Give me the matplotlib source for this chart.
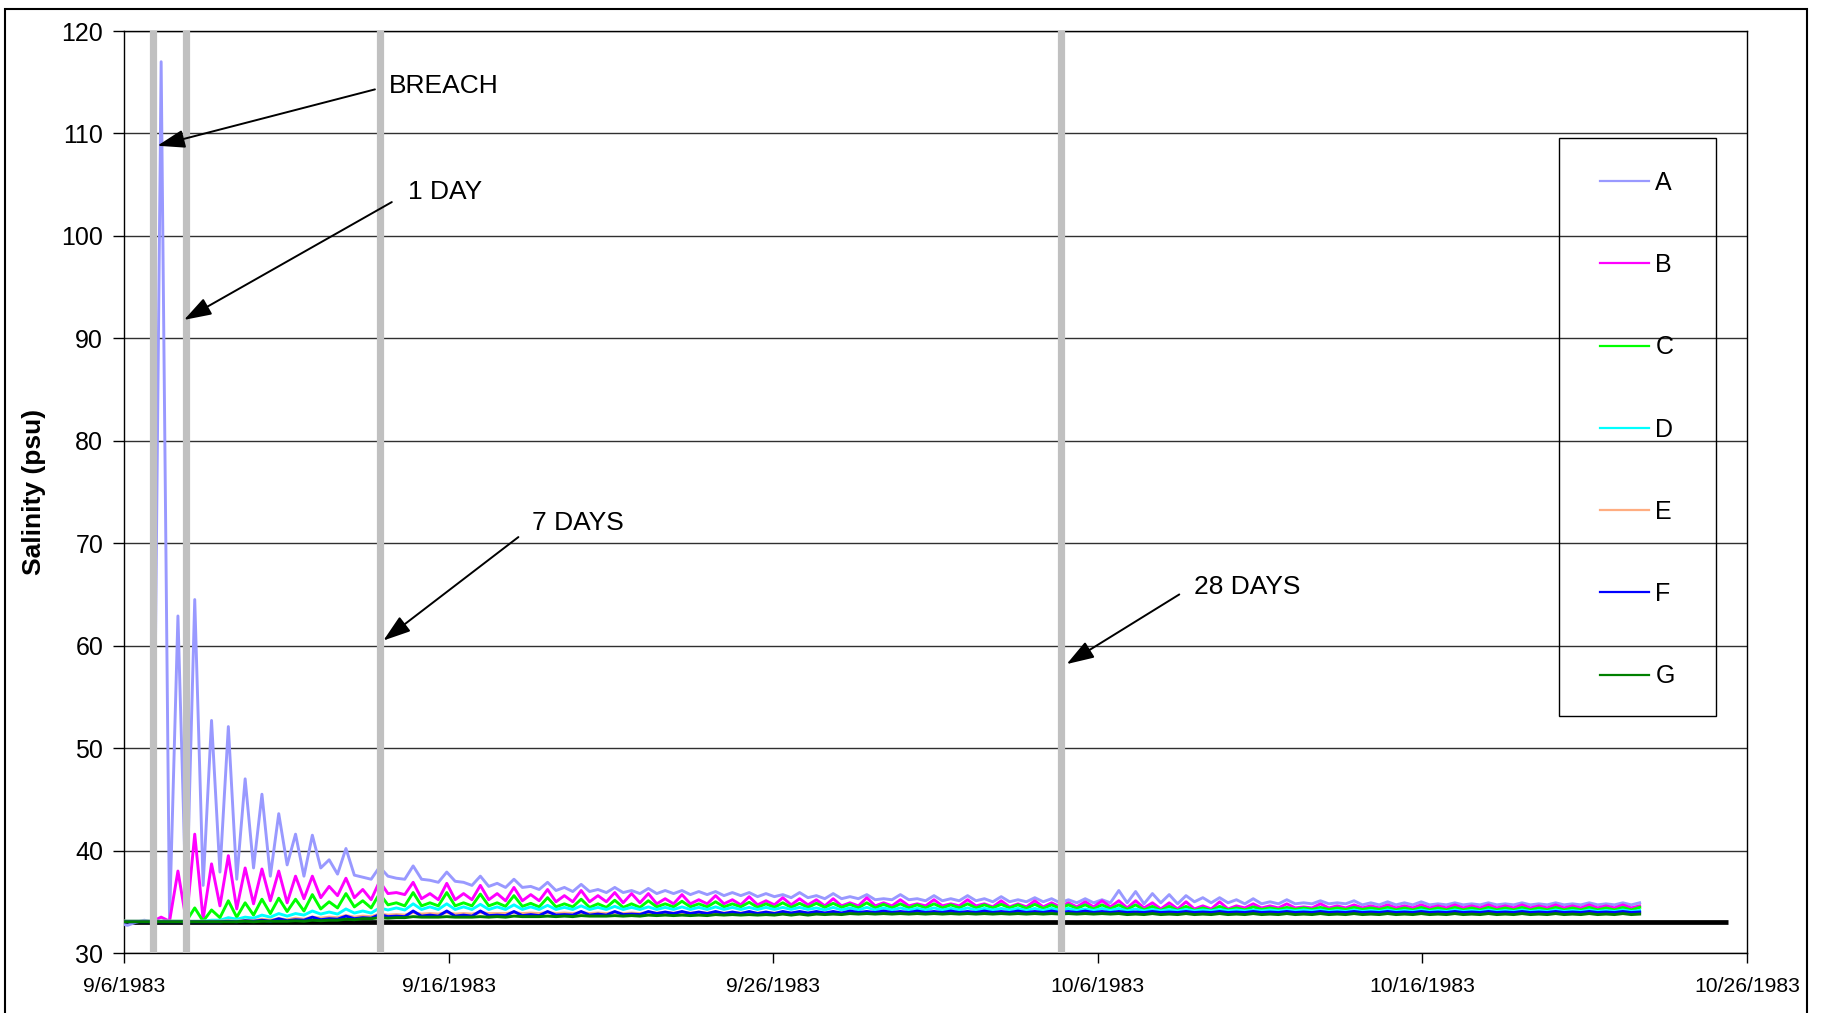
import datetime as dt

import matplotlib
matplotlib.use("Agg")
import matplotlib.pyplot as plt
import matplotlib.dates as mdates
from matplotlib.lines import Line2D
from matplotlib.patches import Rectangle
import numpy as np

plt.rcParams['font.family'] = ['Liberation Sans', 'DejaVu Sans']

# records every half tidal cycle (high / low water), days after 9/6/1983 00:00
sample_start = -0.15
half_tide = 0.2588

names = ['A', 'B', 'C', 'D', 'E', 'F', 'G']
colors = ['#9999FF', '#FF00FF', '#00FF00', '#00FFFF', '#FFAD80', '#0000FF', '#008000']

sal_a = [32.9, 32.7, 33.0, 33.2, 33.0, 117.0, 33.2,
         62.9, 34.0, 64.5, 36.6, 52.7, 37.9, 52.1, 37.2,
         47.0, 38.3, 45.5, 37.5, 43.6, 38.6, 41.6, 37.5,
         41.5, 38.3, 39.1, 37.7, 40.2, 37.6, 37.4, 37.2,
         38.4, 37.5, 37.3, 37.2, 38.5, 37.2, 37.1, 36.9,
         37.9, 37.0, 36.9, 36.6, 37.5, 36.5, 36.8, 36.4,
         37.2, 36.4, 36.5, 36.2, 36.9, 36.1, 36.4, 36.0,
         36.7, 36.0, 36.2, 35.9, 36.4, 35.9, 36.1, 35.8,
         36.3, 35.8, 36.1, 35.8, 36.1, 35.7, 36.0, 35.7,
         36.0, 35.6, 35.9, 35.6, 35.9, 35.5, 35.8, 35.5,
         35.7, 35.4, 35.9, 35.4, 35.6, 35.3, 35.8, 35.3,
         35.5, 35.3, 35.7, 35.2, 35.3, 35.2, 35.7, 35.2,
         35.3, 35.1, 35.6, 35.1, 35.3, 35.1, 35.6, 35.1,
         35.3, 35.0, 35.5, 35.0, 35.2, 35.0, 35.4, 35.0,
         35.3, 34.9, 35.2, 34.9, 35.3, 34.9, 35.2, 34.9,
         36.1, 34.9, 36.0, 34.8, 35.8, 34.9, 35.7, 34.8,
         35.6, 35.0, 35.4, 34.9, 35.4, 34.9, 35.2, 34.8,
         35.3, 34.8, 35.0, 34.8, 35.2, 34.8, 34.9, 34.8,
         35.1, 34.8, 34.9, 34.8, 35.1, 34.7, 34.9, 34.7,
         35.0, 34.7, 34.9, 34.7, 35.0, 34.7, 34.8, 34.7,
         34.9, 34.7, 34.8, 34.7, 34.9, 34.7, 34.8, 34.7,
         34.9, 34.7, 34.8, 34.7, 34.9, 34.7, 34.8, 34.7,
         34.9, 34.7, 34.8, 34.7, 34.9, 34.7, 34.9]

sal_b = [33.1, 33.1, 33.1, 33.1, 33.1, 33.5, 33.1,
         38.0, 33.1, 41.6, 33.3, 38.7, 34.6, 39.5, 34.3,
         38.3, 34.8, 38.2, 35.1, 38.0, 34.9, 37.5, 35.3,
         37.5, 35.4, 36.5, 35.6, 37.3, 35.4, 36.2, 35.2,
         37.0, 35.8, 35.9, 35.7, 36.9, 35.3, 35.8, 35.2,
         36.8, 35.2, 35.8, 35.2, 36.6, 35.2, 35.8, 35.1,
         36.4, 35.1, 35.7, 35.1, 36.2, 35.0, 35.6, 35.0,
         36.1, 35.0, 35.6, 35.0, 35.9, 34.9, 35.8, 34.9,
         35.8, 34.8, 35.3, 34.8, 35.7, 34.8, 35.2, 34.8,
         35.6, 34.8, 35.2, 34.7, 35.5, 34.7, 35.1, 34.7,
         35.4, 34.7, 35.3, 34.7, 35.2, 34.6, 35.3, 34.6,
         34.9, 34.6, 35.4, 34.6, 34.9, 34.6, 35.2, 34.6,
         34.8, 34.6, 35.2, 34.6, 34.8, 34.6, 35.2, 34.6,
         34.8, 34.5, 35.1, 34.5, 34.8, 34.5, 35.1, 34.5,
         34.9, 34.5, 34.9, 34.5, 35.0, 34.5, 35.1, 34.5,
         35.1, 34.4, 35.1, 34.4, 34.9, 34.3, 34.9, 34.3,
         35.0, 34.3, 34.6, 34.3, 35.0, 34.3, 34.6, 34.4,
         34.8, 34.4, 34.6, 34.4, 34.8, 34.4, 34.5, 34.4,
         34.8, 34.4, 34.6, 34.4, 34.7, 34.4, 34.6, 34.4,
         34.7, 34.4, 34.6, 34.4, 34.7, 34.4, 34.6, 34.4,
         34.7, 34.4, 34.6, 34.4, 34.7, 34.4, 34.6, 34.4,
         34.7, 34.4, 34.6, 34.4, 34.7, 34.4, 34.6, 34.4,
         34.7, 34.4, 34.6, 34.4, 34.7, 34.4, 34.6]

sal_c = [33.1, 33.1, 33.1, 33.1, 33.1, 33.1, 33.1,
         33.1, 33.1, 34.4, 33.1, 34.2, 33.45, 35.1, 33.5,
         34.9, 33.7, 35.25, 33.85, 35.35, 34.05, 35.25, 34.1,
         35.7, 34.3, 35.0, 34.4, 35.8, 34.5, 35.1, 34.4,
         35.8, 34.7, 34.9, 34.6, 35.9, 34.6, 34.9, 34.6,
         35.9, 34.6, 34.9, 34.6, 35.75, 34.6, 34.9, 34.55,
         35.6, 34.55, 34.85, 34.5, 35.4, 34.5, 34.8, 34.5,
         35.25, 34.45, 34.8, 34.45, 35.15, 34.45, 34.8, 34.45,
         35.1, 34.5, 34.8, 34.5, 35.05, 34.5, 34.8, 34.5,
         35.0, 34.5, 34.8, 34.5, 34.95, 34.45, 34.8, 34.45,
         34.9, 34.45, 34.85, 34.45, 34.85, 34.45, 34.85, 34.45,
         34.75, 34.4, 34.9, 34.4, 34.75, 34.4, 34.8, 34.4,
         34.7, 34.4, 34.8, 34.4, 34.7, 34.4, 34.8, 34.4,
         34.7, 34.4, 34.75, 34.4, 34.7, 34.35, 34.75, 34.35,
         34.7, 34.35, 34.7, 34.35, 34.7, 34.3, 34.7, 34.3,
         34.7, 34.25, 34.7, 34.2, 34.55, 34.15, 34.55, 34.15,
         34.55, 34.15, 34.4, 34.15, 34.55, 34.2, 34.4, 34.2,
         34.5, 34.25, 34.4, 34.25, 34.45, 34.25, 34.4, 34.25,
         34.45, 34.25, 34.4, 34.25, 34.45, 34.25, 34.4, 34.25,
         34.45, 34.2, 34.4, 34.2, 34.45, 34.2, 34.4, 34.2,
         34.45, 34.2, 34.4, 34.2, 34.45, 34.2, 34.4, 34.2,
         34.45, 34.2, 34.4, 34.2, 34.45, 34.2, 34.4, 34.2,
         34.45, 34.2, 34.4, 34.2, 34.45, 34.2, 34.45]

sal_d = [33.1, 33.1, 33.1, 33.1, 33.1, 33.1, 33.1,
         33.1, 33.1, 33.1, 33.1, 33.2, 33.2, 33.45, 33.3,
         33.5, 33.4, 33.7, 33.5, 33.85, 33.6, 33.85, 33.7,
         34.1, 33.8, 34.0, 33.8, 34.3, 33.9, 34.1, 33.9,
         34.4, 34.2, 34.4, 34.2, 34.8, 34.25, 34.5, 34.25,
         34.8, 34.25, 34.5, 34.25, 34.75, 34.25, 34.5, 34.25,
         34.7, 34.25, 34.5, 34.25, 34.65, 34.25, 34.45, 34.25,
         34.6, 34.25, 34.45, 34.25, 34.55, 34.25, 34.45, 34.25,
         34.5, 34.25, 34.45, 34.25, 34.5, 34.25, 34.45, 34.25,
         34.5, 34.25, 34.45, 34.25, 34.45, 34.25, 34.45, 34.25,
         34.45, 34.25, 34.45, 34.25, 34.4, 34.2, 34.45, 34.2,
         34.4, 34.2, 34.45, 34.2, 34.4, 34.2, 34.4, 34.2,
         34.35, 34.2, 34.4, 34.2, 34.35, 34.2, 34.4, 34.2,
         34.35, 34.2, 34.35, 34.2, 34.35, 34.15, 34.35, 34.15,
         34.35, 34.15, 34.35, 34.15, 34.3, 34.15, 34.35, 34.15,
         34.35, 34.1, 34.3, 34.1, 34.25, 34.1, 34.25, 34.1,
         34.25, 34.1, 34.2, 34.1, 34.25, 34.1, 34.2, 34.1,
         34.2, 34.1, 34.2, 34.1, 34.2, 34.1, 34.2, 34.1,
         34.2, 34.05, 34.15, 34.05, 34.2, 34.05, 34.15, 34.05,
         34.2, 34.05, 34.15, 34.05, 34.2, 34.05, 34.15, 34.05,
         34.2, 34.05, 34.15, 34.05, 34.2, 34.05, 34.15, 34.05,
         34.2, 34.05, 34.15, 34.05, 34.2, 34.05, 34.15, 34.05,
         34.2, 34.05, 34.15, 34.05, 34.2, 34.05, 34.15]

sal_e = [33.1, 33.1, 33.1, 33.1, 33.1, 33.1, 33.1,
         33.1, 33.1, 33.1, 33.1, 33.1, 33.1, 33.15, 33.1,
         33.2, 33.15, 33.3, 33.2, 33.35, 33.25, 33.4, 33.3,
         33.5, 33.4, 33.5, 33.45, 33.65, 33.5, 33.6, 33.55,
         33.8, 33.7, 33.75, 33.7, 33.95, 33.8, 33.85, 33.8,
         33.95, 33.8, 33.85, 33.8, 33.95, 33.85, 33.85, 33.85,
         33.95, 33.85, 33.9, 33.85, 33.95, 33.85, 33.9, 33.85,
         33.95, 33.85, 33.9, 33.85, 33.95, 33.85, 33.9, 33.85,
         33.95, 33.9, 33.95, 33.9, 33.95, 33.9, 33.95, 33.9,
         33.95, 33.9, 33.95, 33.9, 33.95, 33.9, 33.95, 33.9,
         33.95, 33.9, 33.95, 33.9, 33.95, 33.9, 33.95, 33.9,
         34.0, 33.9, 33.95, 33.9, 34.0, 33.9, 33.95, 33.9,
         34.0, 33.9, 33.95, 33.9, 34.0, 33.9, 33.95, 33.9,
         34.0, 33.9, 33.95, 33.9, 34.0, 33.9, 33.95, 33.9,
         34.0, 33.9, 33.95, 33.9, 34.0, 33.9, 33.95, 33.9,
         34.0, 33.9, 33.95, 33.9, 34.0, 33.9, 33.95, 33.9,
         34.0, 33.9, 33.95, 33.9, 34.0, 33.9, 33.95, 33.9,
         34.0, 33.9, 33.95, 33.9, 34.0, 33.9, 33.95, 33.9,
         34.0, 33.9, 33.95, 33.9, 34.0, 33.9, 33.95, 33.9,
         34.0, 33.9, 33.95, 33.9, 34.0, 33.9, 33.95, 33.9,
         34.0, 33.9, 33.95, 33.9, 34.0, 33.9, 33.95, 33.9,
         34.0, 33.9, 33.95, 33.9, 34.0, 33.9, 33.95, 33.9,
         34.0, 33.9, 33.95, 33.9, 34.0, 33.9, 33.95]

sal_f = [33.05, 33.05, 33.05, 33.05, 33.05, 33.05, 33.05,
         33.05, 33.05, 33.05, 33.05, 33.05, 33.05, 33.1, 33.05,
         33.15, 33.1, 33.2, 33.1, 33.35, 33.15, 33.25, 33.2,
         33.5, 33.25, 33.35, 33.3, 33.6, 33.35, 33.45, 33.4,
         33.75, 33.55, 33.6, 33.55, 34.1, 33.6, 33.7, 33.6,
         34.1, 33.6, 33.7, 33.6, 34.1, 33.65, 33.7, 33.65,
         34.05, 33.65, 33.75, 33.65, 34.05, 33.7, 33.75, 33.7,
         34.05, 33.7, 33.8, 33.7, 34.05, 33.75, 33.8, 33.75,
         34.05, 33.85, 34.0, 33.85, 34.05, 33.85, 34.0, 33.85,
         34.05, 33.85, 34.0, 33.85, 34.05, 33.85, 34.0, 33.85,
         34.05, 33.9, 34.05, 33.9, 34.05, 33.9, 34.05, 33.9,
         34.1, 33.95, 34.05, 33.95, 34.1, 33.95, 34.05, 33.95,
         34.1, 33.95, 34.05, 33.95, 34.1, 33.95, 34.05, 33.95,
         34.1, 33.95, 34.05, 33.95, 34.1, 33.95, 34.05, 33.95,
         34.1, 33.95, 34.05, 33.95, 34.1, 33.95, 34.05, 33.95,
         34.05, 33.95, 34.0, 33.95, 34.05, 33.95, 34.0, 33.95,
         34.05, 33.95, 34.0, 33.95, 34.05, 33.95, 34.0, 33.95,
         34.05, 33.95, 34.0, 33.95, 34.05, 33.95, 34.0, 33.95,
         34.05, 33.95, 34.0, 33.95, 34.05, 33.95, 34.0, 33.95,
         34.05, 33.95, 34.0, 33.95, 34.05, 33.95, 34.0, 33.95,
         34.05, 33.95, 34.0, 33.95, 34.05, 33.95, 34.0, 33.95,
         34.05, 33.95, 34.0, 33.95, 34.05, 33.95, 34.0, 33.95,
         34.05, 33.95, 34.0, 33.95, 34.05, 33.95, 34.0]

sal_g = [33.05, 33.05, 33.05, 33.05, 33.05, 33.05, 33.05,
         33.05, 33.05, 33.05, 33.05, 33.05, 33.05, 33.05, 33.05,
         33.1, 33.05, 33.1, 33.1, 33.1, 33.1, 33.15, 33.1,
         33.2, 33.15, 33.2, 33.2, 33.3, 33.25, 33.35, 33.35,
         33.45, 33.4, 33.45, 33.45, 33.55, 33.5, 33.5, 33.5,
         33.55, 33.5, 33.5, 33.5, 33.55, 33.5, 33.55, 33.5,
         33.6, 33.55, 33.55, 33.55, 33.6, 33.55, 33.6, 33.55,
         33.65, 33.6, 33.6, 33.6, 33.65, 33.6, 33.65, 33.6,
         33.7, 33.65, 33.7, 33.65, 33.7, 33.65, 33.7, 33.65,
         33.75, 33.7, 33.75, 33.7, 33.75, 33.7, 33.75, 33.7,
         33.8, 33.7, 33.8, 33.7, 33.8, 33.75, 33.8, 33.75,
         33.85, 33.8, 33.85, 33.8, 33.85, 33.8, 33.85, 33.8,
         33.85, 33.8, 33.85, 33.8, 33.85, 33.8, 33.85, 33.8,
         33.85, 33.8, 33.85, 33.8, 33.85, 33.8, 33.85, 33.8,
         33.85, 33.8, 33.85, 33.8, 33.85, 33.8, 33.85, 33.8,
         33.85, 33.75, 33.8, 33.75, 33.85, 33.75, 33.8, 33.75,
         33.85, 33.75, 33.8, 33.75, 33.85, 33.75, 33.8, 33.75,
         33.85, 33.75, 33.8, 33.75, 33.85, 33.75, 33.8, 33.75,
         33.85, 33.75, 33.8, 33.75, 33.85, 33.75, 33.8, 33.75,
         33.85, 33.75, 33.8, 33.75, 33.85, 33.75, 33.8, 33.75,
         33.85, 33.75, 33.8, 33.75, 33.85, 33.75, 33.8, 33.75,
         33.85, 33.75, 33.8, 33.75, 33.85, 33.75, 33.8, 33.75,
         33.85, 33.75, 33.8, 33.75, 33.85, 33.75, 33.8]

# open ocean reference salinity
ocean_days = [0.0, 49.4]
ocean_sal = [33.0, 33.0]

# breach and the 1, 7 and 28 day marks (days after 9/6/1983 00:00)
event_days = [0.89, 1.91, 7.89, 28.87]
event_labels = ['BREACH', '1 DAY', '7 DAYS', '28 DAYS']

tick_dates = [dt.datetime(1983, 9, 6), dt.datetime(1983, 9, 16), dt.datetime(1983, 9, 26),
              dt.datetime(1983, 10, 6), dt.datetime(1983, 10, 16), dt.datetime(1983, 10, 26)]
y_ticks = [30, 40, 50, 60, 70, 80, 90, 100, 110, 120]

series = [sal_a, sal_b, sal_c, sal_d, sal_e, sal_f, sal_g]

W, H = 1822, 1013
fig = plt.figure(figsize=(W / 100, H / 100), dpi=100)
ax = fig.add_axes([124 / W, 1 - 953 / H, 1623 / W, 922 / H])

t0 = mdates.date2num(tick_dates[0])

ax.plot(t0 + np.array(ocean_days), ocean_sal, color='black', lw=3.4, zorder=2,
        solid_capstyle='butt')

for name, col, vals in zip(names, colors, series):
    tt = t0 + sample_start + half_tide * np.arange(len(vals))
    ax.plot(tt, vals, color=col, lw=2.1, zorder=3, label=name,
            solid_joinstyle='round')

for d in event_days:
    ax.axvline(t0 + d, color='#C0C0C0', lw=5.2, zorder=5)

# arrows: (tip day, tip value), (tail day, tail value), (text day, text value)
arrow_tips = [(1.03, 108.8), (1.85, 91.8), (7.99, 60.5), (29.04, 58.2)]
arrow_tails = [(7.73, 114.3), (8.25, 103.3), (12.15, 70.6), (32.51, 65.0)]
text_pos = [(8.17, 114.65), (8.75, 104.25), (12.58, 72.0), (32.95, 65.75)]
for lab, tip, tail, tp in zip(event_labels, arrow_tips, arrow_tails, text_pos):
    ax.annotate('', xy=(t0 + tip[0], tip[1]), xytext=(t0 + tail[0], tail[1]),
                arrowprops=dict(arrowstyle='-|>,head_length=0.6,head_width=0.2',
                                mutation_scale=28, color='black', lw=1.4,
                                shrinkA=0, shrinkB=0),
                zorder=7)
    ax.text(t0 + tp[0], tp[1], lab, fontsize=19, va='center', ha='left', zorder=7)

ax.set_xlim(t0, t0 + 50)
ax.set_ylim(30, 120)
ax.set_yticks(y_ticks)
ax.set_xticks(mdates.date2num(tick_dates))
ax.set_xticklabels([f'{d.month}/{d.day}/{d.year}' for d in tick_dates])
ax.yaxis.grid(True, color='#303030', lw=1.0, zorder=1)
ax.set_axisbelow(True)
ax.tick_params(axis='y', direction='out', length=8, width=1, pad=7, labelsize=18)
ax.tick_params(axis='x', direction='out', length=7, width=1, pad=10, labelsize=15.2)
for s in ax.spines.values():
    s.set_linewidth(1.0)
    s.set_color('black')

ax.set_ylabel('Salinity (psu)', fontsize=19, fontweight='bold')
ax.yaxis.set_label_coords((46 - 124) / 1623, 0.5)

# legend: entries centred in a box drawn separately
handles = [Line2D([], [], color=c, lw=1.6) for c in colors]
leg = fig.legend(handles, names, loc='center', bbox_to_anchor=(1637.5 / W, 1 - 429.5 / H),
                 frameon=False, fontsize=18, handlelength=1.96, handletextpad=0.24,
                 labelspacing=2.33, borderpad=0.0)
fig.patches.append(Rectangle((1559 / W, 1 - 716 / H), 157 / W, 578 / H,
                             transform=fig.transFigure, fill=False, ec='black', lw=1.0))

# frame round the whole chart, its lower edge runs off the page
fig.patches.append(Rectangle((5 / W, -0.01), 1802 / W, 1 - 9 / H + 0.01,
                             transform=fig.transFigure, fill=False, ec='black', lw=1.5,
                             clip_on=False))

fig.savefig('out.png', dpi=100)
